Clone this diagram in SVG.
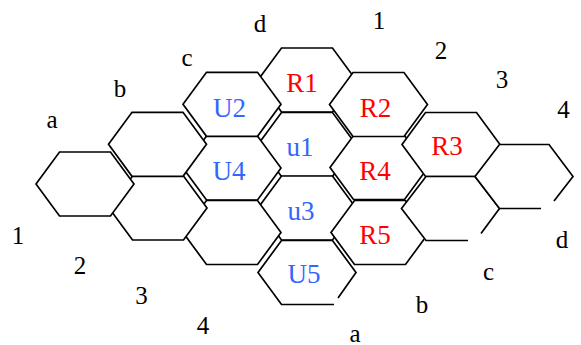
<svg xmlns="http://www.w3.org/2000/svg" xmlns:xlink="http://www.w3.org/1999/xlink" width="581" height="345" viewBox="0 0 581 345">
<style>
.hex{fill:#fff;stroke:#000;stroke-width:1.7;stroke-linejoin:miter}
.fillonly{fill:#fff;stroke:none}
.edge{fill:none;stroke:#000;stroke-width:1.7;stroke-linejoin:miter}
.lbl{font-family:"Liberation Serif","Times New Roman",serif;font-size:25px;fill:#000;text-anchor:middle}
.blue{font-family:"Liberation Serif","Times New Roman",serif;font-size:27px;fill:#3366FF;text-anchor:middle}
.red{font-family:"Liberation Serif","Times New Roman",serif;font-size:27px;fill:#FF0000;text-anchor:middle}
</style>
<defs>
<polygon id="hx" points="-25.5,-32 25.5,-32 49,0 25.5,32 -25.5,32 -49,0"/>
</defs>
<rect width="581" height="345" fill="#fff"/>
<g id="hexes">
<g id="R1"><use xlink:href="#hx" href="#hx" class="hex" x="307" y="80"/><text class="red" x="302" y="92">R1</text></g>
<g id="u1"><use xlink:href="#hx" href="#hx" class="hex" x="307" y="144.5"/><text class="blue" x="300" y="156">u1</text></g>
<g id="u3"><use xlink:href="#hx" href="#hx" class="hex" x="307" y="208"/><text class="blue" x="301" y="220">u3</text></g>
<g id="U4"><use xlink:href="#hx" href="#hx" class="hex" x="232" y="168"/><text class="blue" x="229" y="179.5">U4</text></g>
<g id="R4"><use xlink:href="#hx" href="#hx" class="hex" x="379" y="167.5"/><text class="red" x="375" y="180">R4</text></g>
<g id="R5"><use xlink:href="#hx" href="#hx" class="hex" x="380" y="232.5"/><text class="red" x="375" y="243.5">R5</text></g>
<g id="D"><use xlink:href="#hx" href="#hx" class="hex" x="232" y="232.5"/></g>
<g id="C"><use xlink:href="#hx" href="#hx" class="hex" x="158" y="208"/></g>
<g id="A"><use xlink:href="#hx" href="#hx" class="hex" x="85" y="184"/></g>
<g id="B"><use xlink:href="#hx" href="#hx" class="hex" x="157.5" y="144.3"/></g>
<g id="U2"><use xlink:href="#hx" href="#hx" class="hex" x="232" y="104.3"/><text class="blue" x="229.5" y="116.5">U2</text></g>
<g id="R2"><use xlink:href="#hx" href="#hx" class="hex" x="378.5" y="104.5"/><text class="red" x="375.5" y="116.5">R2</text></g>
<g id="R3"><use xlink:href="#hx" href="#hx" class="hex" x="451" y="144.5"/><text class="red" x="447" y="154.5">R3</text></g>
<g id="E"><use xlink:href="#hx" href="#hx" class="fillonly" x="450.5" y="208.5"/>
<path class="edge" d="M481,233.5 L499.5,208.5 L475,176.5 H426 L401.5,208.5 L426,240.5 H468"/></g>
<g id="F"><use xlink:href="#hx" href="#hx" class="fillonly" x="524.5" y="176.5"/>
<path class="edge" d="M541,208.5 H499.5 L475,176.5 L499.5,144.5 H549 L573,176.5 L554,201"/></g>
<g id="U5"><use xlink:href="#hx" href="#hx" class="fillonly" x="307" y="272.5"/>
<path class="edge" d="M338,298 L356,272.5 L332.5,240.5 H281.5 L258,272.5 L281.5,304.5 H334"/>
<text class="blue" x="304" y="283">U5</text></g>
</g>
<g id="axis-labels">
<text class="lbl" x="52" y="128">a</text>
<text class="lbl" x="120" y="97">b</text>
<text class="lbl" x="187" y="65.5">c</text>
<text class="lbl" x="260" y="32">d</text>
<text class="lbl" x="379" y="28.5">1</text>
<text class="lbl" x="441" y="58.5">2</text>
<text class="lbl" x="502" y="88">3</text>
<text class="lbl" x="563.5" y="117.5">4</text>
<text class="lbl" x="18" y="244">1</text>
<text class="lbl" x="80" y="274">2</text>
<text class="lbl" x="141.5" y="304">3</text>
<text class="lbl" x="203" y="333.5">4</text>
<text class="lbl" x="562" y="247.5">d</text>
<text class="lbl" x="488.5" y="280">c</text>
<text class="lbl" x="422" y="312.5">b</text>
<text class="lbl" x="355" y="341.5">a</text>
</g>
</svg>
